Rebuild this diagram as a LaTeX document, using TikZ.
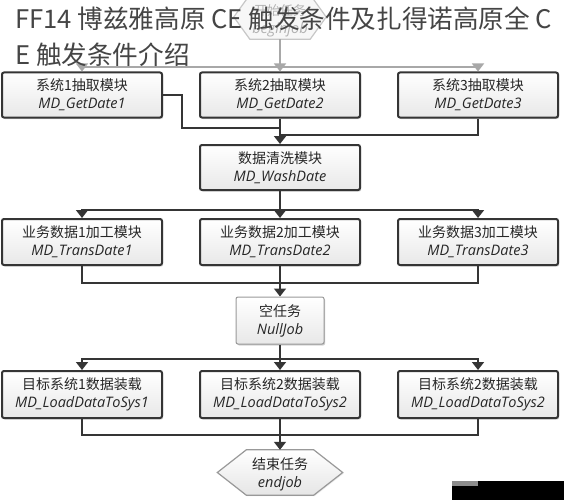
\documentclass[tikz,border=0pt]{standalone}
\usepackage{fontspec}
\newfontfamily\cjk{Noto Sans CJK SC}
\newfontfamily\hand{Open Sans}
\usetikzlibrary{arrows.meta,shadows,calc}
\definecolor{ln}{HTML}{353535}
\definecolor{fadeln}{HTML}{A8A8A8}
\definecolor{titlec}{HTML}{454545}
\newcommand{\lat}[1]{{\hand\itshape\fontsize{14.5}{18}\selectfont #1}}
\begin{document}
\begin{tikzpicture}[x=1pt,y=-1pt,
  box/.style={draw=ln, line width=2pt, rounded corners=2pt, top color=white, bottom color=black!9,
    minimum width=160pt, minimum height=45pt, inner sep=0pt, align=center, text=black!85,
    font=\cjk\fontsize{14}{18}\selectfont,
    drop shadow={opacity=0.3,shadow xshift=1.2pt,shadow yshift=-1.5pt}},
  lightbox/.style={box, draw=black!40, line width=1pt, drop shadow={opacity=0.15,shadow xshift=1pt,shadow yshift=-1pt}},
  hexnode/.style={minimum width=#1, inner sep=0pt, draw=none},
  conn/.style={draw=ln, line width=1.7pt},
  fconn/.style={draw=fadeln, line width=1.5pt},
  arr/.style={-{Triangle[width=12pt,length=8pt]}},
  titletext/.style={anchor=base west, inner sep=0pt, text=titlec, font=\cjk\fontsize{25.6}{30}\selectfont}
]
\useasboundingbox (0,0) rectangle (564,500);
\fill[white] (0,0) rectangle (564,500);

% begin hexagon (faded)
\node[hexnode=92pt, minimum height=44pt] (b) at (280,17) {};
\path[draw=black!22, line width=1.2pt, fill=black!3]
  (b.west) -- ([xshift=16pt]b.north west) -- ([xshift=-16pt]b.north east) -- (b.east)
  -- ([xshift=-16pt]b.south east) -- ([xshift=16pt]b.south west) -- cycle;
\node[align=center, text=black!30, font=\cjk\fontsize{13}{18}\selectfont] (bt) at (280,21)
  {开始任务\\{\hand\itshape\fontsize{14.5}{18}\selectfont beginjob}};

% row 1
\node[box] (g1) at (82,95) {系统1抽取模块\\\lat{MD\_GetDate1}};
\node[box] (g2) at (280,95) {系统2抽取模块\\\lat{MD\_GetDate2}};
\node[box] (g3) at (478,95) {系统3抽取模块\\\lat{MD\_GetDate3}};

% wash
\node[box] (w) at (280,167.5) {数据清洗模块\\\lat{MD\_WashDate}};

% row 3
\node[box, minimum height=46pt] (p1) at (82,242) {业务数据1加工模块\\\lat{MD\_TransDate1}};
\node[box, minimum height=46pt] (p2) at (280,242) {业务数据2加工模块\\\lat{MD\_TransDate2}};
\node[box, minimum height=46pt] (p3) at (478,242) {业务数据3加工模块\\\lat{MD\_TransDate3}};

% null job
\node[lightbox, minimum width=88pt, minimum height=47pt] (n) at (280,320.5) {空任务\\\lat{NullJob}};

% row 5
\node[box, minimum height=47pt] (l1) at (82,394.5) {目标系统1数据装载\\\lat{MD\_LoadDataToSys1}};
\node[box, minimum height=47pt] (l2) at (280,394.5) {目标系统2数据装载\\\lat{MD\_LoadDataToSys2}};
\node[box, minimum height=47pt] (l3) at (478,394.5) {目标系统2数据装载\\\lat{MD\_LoadDataToSys2}};

% end hexagon
\node[hexnode=125pt, minimum height=45pt] (e) at (280,472.5) {};
\path[draw=black!40, line width=1.2pt, top color=white, bottom color=black!10,
  drop shadow={opacity=0.15,shadow xshift=1pt,shadow yshift=-1pt}]
  (e.west) -- ([xshift=29pt]e.north west) -- ([xshift=-29pt]e.north east) -- (e.east)
  -- ([xshift=-29pt]e.south east) -- ([xshift=29pt]e.south west) -- cycle;
\node[align=center, text=black!85, font=\cjk\fontsize{14}{18}\selectfont] (et) at (280,474)
  {结束任务\\\lat{endjob}};

% coordinates
\coordinate (t1) at (280,67);
\coordinate (k1) at (182,128);
\coordinate (j1) at (280,128);
\coordinate (j2) at (280,135);
\coordinate (d1) at (280,210);
\coordinate (c3) at (280,283);
\coordinate (d2) at (280,359);
\coordinate (c5) at (280,435);

% begin -> row1
\draw[fconn] (b.south) -- (t1);
\draw[fconn, arr] (t1) -| (g1.north);
\draw[fconn, arr] (t1) -| (g3.north);
\draw[fconn, arr] (t1) -- (g2.north);

% row1 -> wash
\draw[conn] (g1.east) -| (k1) -- (j1);
\draw[conn] (g3.south) |- (j2);
\draw[conn, arr] (g2.south) -- (w.north);

% wash -> row3
\draw[conn] (w.south) -- (d1);
\draw[conn, arr] (d1) -| (p1.north);
\draw[conn, arr] (d1) -| (p3.north);
\draw[conn, arr] (d1) -- (p2.north);

% row3 -> null
\draw[conn] (p1.south) |- (c3);
\draw[conn] (p3.south) |- (c3);
\draw[conn, arr] (p2.south) -- (n.north);

% null -> row5
\draw[conn] (n.south) -- (d2);
\draw[conn, arr] (d2) -| (l1.north);
\draw[conn, arr] (d2) -| (l3.north);
\draw[conn, arr] (d2) -- (l2.north);

% row5 -> end
\draw[conn] (l1.south) |- (c5);
\draw[conn] (l3.south) |- (c5);
\draw[conn, arr] (l2.south) -- (e.north);

% watermark block
\fill[black] (452,481) rectangle (564,500);
\fill[black!45] (452,481) rectangle (478,485.5);

% title
\node[titletext] (ti1) at (15,29) {FF14 博兹雅高原 CE 触发条件及扎得诺高原全 C};
\node[titletext] (ti2) at (15,65) {E 触发条件介绍};
\end{tikzpicture}
\end{document}
